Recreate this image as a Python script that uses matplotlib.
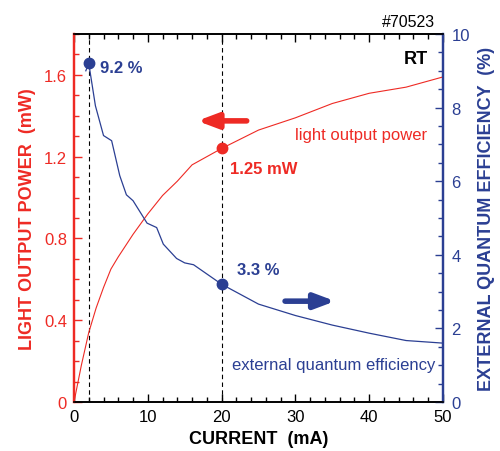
import matplotlib
matplotlib.use('Agg')
import matplotlib.pyplot as plt
from matplotlib.ticker import MultipleLocator

plt.rcParams['font.family'] = ['Liberation Sans', 'DejaVu Sans']

RED = '#ee2a24'
BLUE = '#2b3f93'

# light output power vs current
cur_p = [0, 1, 2, 3, 4, 5, 6, 8, 10, 12, 14, 16, 18, 20, 25, 30, 35, 40, 45, 50]
power = [0, 0.18, 0.34, 0.46, 0.56, 0.65, 0.71, 0.82, 0.92, 1.01, 1.08, 1.16, 1.20, 1.24,
         1.33, 1.39, 1.46, 1.51, 1.54, 1.59]

# external quantum efficiency vs current
cur_e = [1.6, 2, 2.9, 4, 5.1, 6.2, 7.1, 8, 9.9, 11.2, 12.1, 13.9, 15, 16.2, 20, 25, 30,
         35, 40, 45, 50]
eqe = [9.0, 9.2, 8.05, 7.24, 7.10, 6.15, 5.63, 5.47, 4.86, 4.74, 4.29, 3.90, 3.78, 3.73,
       3.2, 2.66, 2.35, 2.09, 1.87, 1.67, 1.60]

fig = plt.figure(figsize=(5, 4.52), dpi=100)
ax = fig.add_axes([0.148, 0.1084, 0.738, 0.8142])
ax2 = ax.twinx()

ax.set_xlim(0, 50)
ax.set_ylim(0, 1.8)
ax2.set_ylim(0, 10)

# dashed guide lines
for xv in (2, 20):
    ax.axvline(xv, color='black', lw=0.8, ls=(0, (4, 3)), zorder=1)

ax.plot(cur_p, power, color=RED, lw=0.8, zorder=3)
ax.plot([20], [1.24], 'o', color=RED, ms=7.5, zorder=4)
ax2.plot(cur_e, eqe, color=BLUE, lw=0.9, zorder=3)
ax2.plot([2, 20], [9.2, 3.2], 'o', color=BLUE, ms=7.5, zorder=4)

# arrows
astyle = '-|>,head_length=1.2,head_width=0.45'
ax.annotate('', xy=(16.7, 1.375), xytext=(23.4, 1.375),
            arrowprops=dict(arrowstyle=astyle, color=RED, lw=4, shrinkA=0, shrinkB=0))
ax2.annotate('', xy=(35.4, 2.74), xytext=(28.6, 2.74),
             arrowprops=dict(arrowstyle=astyle, color=BLUE, lw=4, shrinkA=0, shrinkB=0))

# texts
ax2.text(3.5, 9.1, '9.2 %', color=BLUE, fontsize=12, fontweight='bold', va='center')
ax.text(21.1, 1.14, '1.25 mW', color=RED, fontsize=12, fontweight='bold', va='center')
ax2.text(22.1, 3.61, '3.3 %', color=BLUE, fontsize=12, fontweight='bold', va='center')
ax.text(47.8, 1.31, 'light output power', color=RED, fontsize=12, ha='right', va='center')
ax2.text(48.9, 1.03, 'external quantum efficiency', color=BLUE, fontsize=12, ha='right',
         va='center')
ax.text(48.0, 1.68, 'RT', color='black', fontsize=13, fontweight='bold', ha='right', va='center')
fig.text(0.87, 0.951, '#70523', color='black', fontsize=11.5, ha='right', va='center')

ax.set_xlabel('CURRENT  (mA)', fontsize=13, fontweight='bold', labelpad=4)
ax.set_ylabel('LIGHT OUTPUT POWER  (mW)', fontsize=13, fontweight='bold', color=RED, labelpad=6)
ax2.set_ylabel('EXTERNAL QUANTUM EFFICIENCY  (%)', fontsize=13, fontweight='bold', color=BLUE,
               labelpad=6)

ax.xaxis.set_major_locator(MultipleLocator(10))
ax.xaxis.set_minor_locator(MultipleLocator(2))
ax.yaxis.set_major_locator(MultipleLocator(0.4))
ax.yaxis.set_minor_locator(MultipleLocator(0.1))
ax2.yaxis.set_major_locator(MultipleLocator(2))
ax2.yaxis.set_minor_locator(MultipleLocator(0.5))
ax.yaxis.set_major_formatter(plt.FuncFormatter(lambda v, p: '0' if v == 0 else f'{v:.1f}'))

ax.tick_params(axis='x', which='both', direction='in', top=True, labelsize=12, color='black',
               pad=5)
ax.tick_params(axis='x', which='major', length=6, width=1)
ax.tick_params(axis='x', which='minor', length=3.5, width=1)
ax.tick_params(axis='y', which='both', direction='in', colors=RED, labelsize=12, pad=5)
ax.tick_params(axis='y', which='major', length=6, width=1)
ax.tick_params(axis='y', which='minor', length=3.5, width=1)
ax2.tick_params(axis='y', which='both', direction='in', colors=BLUE, labelsize=12, pad=6)
ax2.tick_params(axis='y', which='major', length=6, width=1)
ax2.tick_params(axis='y', which='minor', length=3.5, width=1)

for a in (ax, ax2):
    a.spines['left'].set_color(RED)
    a.spines['left'].set_linewidth(1.6)
    a.spines['right'].set_color(BLUE)
    a.spines['right'].set_linewidth(1.6)
    a.spines['top'].set_linewidth(1.2)
    a.spines['bottom'].set_linewidth(1.2)

fig.savefig('out.png', dpi=100)
